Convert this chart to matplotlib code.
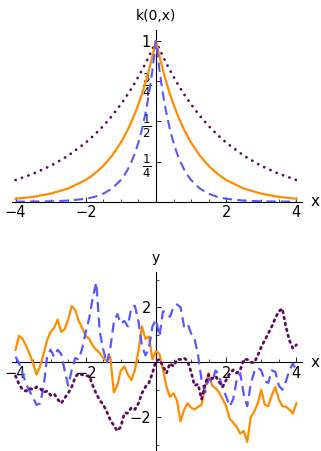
import matplotlib
matplotlib.use("Agg")
import matplotlib.pyplot as plt
import numpy as np

# kernel curves (symmetric about x = 0)
k_x = [0, 0.1, 0.2, 0.3, 0.4, 0.5, 0.6, 0.7, 0.8, 0.9, 1.0, 1.25, 1.5, 1.75,
       2.0, 2.5, 3.0, 3.5, 4.0]
k_wide = [1.0, 0.951, 0.905, 0.861, 0.819, 0.779, 0.741, 0.705, 0.670, 0.638,
          0.607, 0.535, 0.472, 0.417, 0.368, 0.287, 0.223, 0.174, 0.135]
k_mid = [1.0, 0.905, 0.819, 0.741, 0.670, 0.607, 0.549, 0.497, 0.449, 0.407,
         0.368, 0.287, 0.223, 0.174, 0.135, 0.082, 0.050, 0.030, 0.018]
k_narrow = [1.0, 0.819, 0.670, 0.549, 0.449, 0.368, 0.301, 0.247, 0.202, 0.165,
            0.135, 0.082, 0.050, 0.030, 0.018, 0.007, 0.002, 0.001, 0.0003]

# sample paths, x = -4 .. 4 in steps of 0.1
path_x = [round(-4 + 0.1 * i, 1) for i in range(81)]
path_orange = [0.45, 0.96, 0.85, 0.6, 0.3, -0.04, -0.45, -0.15, 0.3, 0.8,
               1.1, 1.25, 1.55, 1.1, 1.2, 1.55, 2.04, 1.9, 1.5, 1.25,
               0.95, 0.85, 0.6, 0.45, 0.33, 0.15, 0.05, 0.2, -1.1, -0.85,
               -0.3, -0.15, -0.45, -0.65, -0.3, 0.4, 1.3, 0.85, 0.94, 0.1,
               0.4, 0.3, -0.25, -0.9, -1.26, -1.13, -1.4, -2.15, -1.74, -1.5,
               -1.65, -1.72, -1.62, -1.55, -0.9, -0.4, -0.85, -0.95, -1.1, -1.35,
               -1.6, -2.05, -2.2, -2.35, -2.6, -2.5, -2.9, -2.0, -1.8, -1.5,
               -1.0, -1.55, -1.6, -1.2, -0.9, -1.35, -1.6, -1.62, -1.72, -1.87,
               -1.5]
path_blue = [0.2, -0.04, -0.4, -0.8, -1.05, -1.3, -1.55, -1.5, -0.9, 0.2,
             0.45, 0.2, 0.45, 0.3, -0.3, -0.85, -0.3, 0.15, 0.1, 0.5,
             1.1, 1.6, 2.35, 2.9, 1.1, 0.45, -0.04, 0.5, 1.45, 1.75,
             1.4, 1.5, 1.3, 2.0, 2.05, 1.5, 0.6, 0.25, 0.5, 1.3,
             1.55, 0.94, 1.85, 1.8, 1.65, 2.0, 2.1, 2.0, 1.3, 1.4,
             1.05, 0.85, 0.25, -0.65, -1.1, -0.6, -0.7, -0.3, -0.5, -0.95,
             -1.25, -1.6, -1.35, -0.65, -0.4, -1.15, -1.6, -0.8, -0.35, -0.2,
             -0.3, -0.7, -0.75, -0.3, -0.35, -0.85, -1.0, -0.7, -0.3, -0.05,
             -0.3]
path_purple = [-0.5, -0.8, -1.0, -1.05, -0.95, -1.0, -0.9, -0.95, -1.1, -1.05,
               -1.2, -1.15, -1.35, -1.5, -1.3, -1.13, -0.9, -0.55, -0.4, -0.46,
               -0.5, -0.5, -0.85, -1.15, -1.38, -1.55, -1.8, -2.1, -2.3, -2.5,
               -2.35, -1.85, -1.85, -1.65, -1.72, -1.5, -1.13, -0.9, -0.75, -0.4,
               0.05, 0.1, -0.15, -0.4, -0.04, -0.15, 0.1, 0.1, 0.15, 0.05,
               -0.35, -0.85, -0.8, -1.35, -0.8, -0.45, -0.6, -0.5, -0.72, -0.9,
               -0.65, -0.42, -0.28, -0.4, -0.28, 0.1, 0.1, 0.0, -0.02, 0.25,
               0.55, 0.8, 1.05, 1.3, 1.6, 1.85, 1.95, 1.3, 0.8, 0.5,
               0.63]

ORANGE = '#ff8c00'
BLUE = '#5858ff'
PURPLE = '#5e0a5e'


def style_axes(ax, xlab, ylab):
    for side in ('top', 'right'):
        ax.spines[side].set_visible(False)
    ax.spines['left'].set_position(('data', 0))
    ax.spines['bottom'].set_position(('data', 0))
    for side in ('left', 'bottom'):
        ax.spines[side].set_linewidth(0.8)
        ax.spines[side].set_zorder(1)
    ax.set_xticks([-4, -2, 2, 4])
    ax.set_xticklabels(['\u22124', '\u22122', '2', '4'])
    ax.set_xticks([-3.5, -3, -2.5, -1.5, -1, -0.5, 0.5, 1, 1.5, 2.5, 3, 3.5], minor=True)
    ax.tick_params(which='major', direction='in', length=3.5, width=0.6, labelsize=10.5)
    ax.tick_params(which='minor', direction='in', length=2, width=0.5)
    ax.tick_params(axis='x', pad=2.5)
    ax.tick_params(axis='y', pad=3.5)
    ax.annotate(xlab, xy=(1.0, 0), xycoords=('axes fraction', 'data'),
                xytext=(6, 0), textcoords='offset points',
                ha='left', va='center', fontsize=11, annotation_clip=False)
    ax.annotate(ylab, xy=(0, 1.0), xycoords=('data', 'axes fraction'),
                xytext=(0, 5), textcoords='offset points',
                ha='center', va='bottom', fontsize=10, annotation_clip=False)


fig = plt.figure(figsize=(3.21, 4.51), dpi=100)

ax1 = fig.add_axes([0.0374, 0.5528, 0.9034, 0.3807])
xs = np.concatenate([-np.array(k_x[::-1]), np.array(k_x[1:])])
mirror = lambda v: np.concatenate([np.array(v[::-1]), np.array(v[1:])])
ax1.plot(xs, mirror(k_wide), color=PURPLE, lw=2.0, linestyle=(0, (0.05, 2.4)),
         dash_capstyle='round', zorder=3)
ax1.plot(xs, mirror(k_mid), color=ORANGE, lw=1.6, zorder=3)
ax1.plot(xs, mirror(k_narrow), color=BLUE, lw=1.5, linestyle=(0, (4.5, 2.5)), zorder=3)
ax1.set_xlim(-4.10, 4.16)
ax1.set_ylim(0, 1.07)
style_axes(ax1, 'x', 'k(0,x)')
ax1.set_yticks([0.25, 0.5, 0.75, 1.0])
ax1.set_yticklabels([r'$\frac{1}{4}$', r'$\frac{1}{2}$', r'$\frac{3}{4}$', '1'])
for lab in ax1.get_yticklabels()[:3]:
    lab.set_fontsize(12)

ax2 = fig.add_axes([0.0374, 0.0, 0.9034, 0.3969])
ax2.plot(path_x, path_orange, color=ORANGE, lw=1.6, zorder=3)
ax2.plot(path_x, path_blue, color=BLUE, lw=1.6, linestyle=(0, (4.5, 2.5)), zorder=3)
ax2.plot(path_x, path_purple, color=PURPLE, lw=2.0, linestyle=(0, (0.6, 1.6)),
         dash_capstyle='round', zorder=3)
ax2.set_xlim(-4.10, 4.16)
ax2.set_ylim(-3.23, 3.28)
style_axes(ax2, 'x', 'y')
ax2.set_yticks([-2, 2])
ax2.set_yticklabels(['\u22122', '2'])
ax2.set_yticks([-3, -1, 1, 3], minor=True)

fig.savefig('out.png', dpi=100)
